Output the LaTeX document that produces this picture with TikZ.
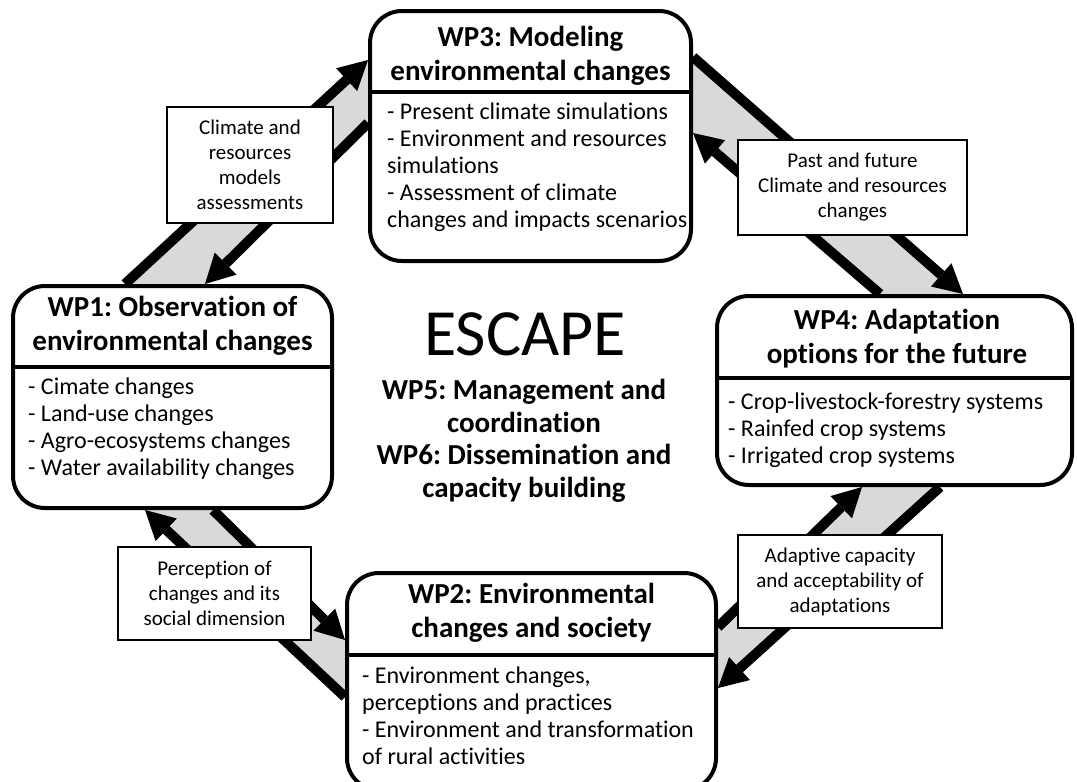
\documentclass[tikz,border=0pt]{standalone}
\usepackage{fontspec}
\setmainfont{Carlito}[Ligatures=NoCommon]
\frenchspacing
\usetikzlibrary{arrows.meta,backgrounds}
\begin{document}
\begin{tikzpicture}[x=1pt,y=-1pt,
  wpbox/.style={draw,line width=4pt,fill=white,rounded corners=32pt,inner sep=0pt},
  divider/.style={line width=3.5pt},
  wptitle/.style={font=\fontsize{29}{34}\selectfont\bfseries,align=center,inner sep=0pt,
    anchor=north,execute at begin node={\rule{0pt}{24pt}}},
  wpitems/.style={font=\fontsize{24}{27}\selectfont,align=left,inner sep=0pt,
    anchor=north west,execute at begin node={\rule{0pt}{20pt}}},
  flowlabel/.style={draw,line width=2pt,fill=white,font=\fontsize{21}{25}\selectfont,
    align=center,inner sep=0pt},
  band/.style={fill=black!15},
  flow/.style={line width=10pt,-{Triangle[length=29pt,width=31pt,line width=0pt]}},
]
\useasboundingbox (0,0) rectangle (1077,782);

% work package boxes
\node[wpbox,minimum width=321pt,minimum height=250pt] (wp3) at (530.5,136) {};
\node[wpbox,minimum width=319pt,minimum height=222pt] (wp1) at (172.5,397) {};
\node[wpbox,minimum width=355pt,minimum height=189pt] (wp4) at (894.5,390.5) {};
\node[wpbox,minimum width=369pt,minimum height=217pt] (wp2) at (531.5,681.5) {};

% title / content separators
\draw[divider] (wp3.west |- 0,92) -- (wp3.east |- 0,92);
\draw[divider] (wp1.west |- 0,367) -- (wp1.east |- 0,367);
\draw[divider] (wp4.west |- 0,378) -- (wp4.east |- 0,378);
\draw[divider] (wp2.west |- 0,655) -- (wp2.east |- 0,655);

% titles
\node[wptitle] (wp3t) at (530.5,26) {WP3: Modeling\\environmental changes};
\node[wptitle] (wp1t) at (172.5,296) {WP1: Observation of\\environmental changes};
\node[wptitle] (wp4t) at (897,309) {WP4: Adaptation\\options for the future};
\node[wptitle] (wp2t) at (531.5,583) {WP2: Environmental\\changes and society};

% contents
\node[wpitems] (wp3b) at (387,103) {- Present climate simulations\\- Environment and resources\\simulations\\- Assessment of climate\\changes and impacts scenarios};
\node[wpitems] (wp1b) at (28,378) {- Cimate changes\\- Land-use changes\\- Agro-ecosystems changes\\- Water availability changes};
\node[wpitems] (wp4b) at (728,393) {- Crop-livestock-forestry systems\\- Rainfed crop systems\\- Irrigated crop systems};
\node[wpitems] (wp2b) at (362,667) {- Environment changes,\\perceptions and practices\\- Environment and transformation\\of rural activities};

% project name and transversal work packages
\node[font=\fontsize{66}{70}\selectfont,anchor=base,inner sep=0pt] (escape) at (525,355) {ESCAPE};
\node[wptitle,font=\fontsize{29}{32.5}\selectfont\bfseries] (wp56) at (524,379)
  {WP5: Management and\\coordination\\WP6: Dissemination and\\capacity building};

% end points of the exchanges between work packages
\coordinate (a1) at (wp1.north -| 125,0);
\coordinate (a2) at (wp3.west |- 0,60);
\coordinate (a3) at (wp3.west |- 0,123);
\coordinate (a4) at (wp1.north -| 205,0);

\coordinate (b1) at (wp3.east |- 0,57);
\coordinate (b2) at (wp4.north -| 963,0);
\coordinate (b3) at (wp4.north -| 880,0);
\coordinate (b4) at (wp3.east |- 0,133);

\coordinate (c1) at (wp1.south -| 213,0);
\coordinate (c2) at (wp2.west |- 0,640);
\coordinate (c3) at (wp2.west |- 0,697);
\coordinate (c4) at (wp1.south -| 145,0);

\coordinate (d1) at (wp2.east |- 0,627);
\coordinate (d2) at (wp4.south -| 862,0);
\coordinate (d3) at (wp4.south -| 940,0);
\coordinate (d4) at (wp2.east |- 0,688);

\begin{pgfonlayer}{background}
  \fill[band] (a1) -- (a2) -- (a3) -- (a4) -- cycle;
  \fill[band] (b1) -- (b2) -- (b3) -- (b4) -- cycle;
  \fill[band] (c4) -- (c1) -- (c2) -- (c3) -- cycle;
  \fill[band] (d1) -- (d2) -- (d3) -- (d4) -- cycle;
  \draw[flow] (a1) -- (a2);
  \draw[flow] (a3) -- (a4);
  \draw[flow] (b1) -- (b2);
  \draw[flow] (b3) -- (b4);
  \draw[flow] (c1) -- (c2);
  \draw[flow] (c3) -- (c4);
  \draw[flow] (d1) -- (d2);
  \draw[flow] (d3) -- (d4);
\end{pgfonlayer}

% exchange labels
\node[flowlabel,minimum width=166pt,minimum height=116pt] (lab13) at (250,165)
  {Climate and\\resources\\models\\assessments};
\node[flowlabel,minimum width=229pt,minimum height=95pt] (lab34) at (852.5,187.5)
  {Past and future\\Climate and resources\\changes};
\node[flowlabel,minimum width=193pt,minimum height=93pt] (lab12) at (214.5,593.5)
  {Perception of\\changes and its\\social dimension};
\node[flowlabel,minimum width=204pt,minimum height=93pt] (lab24) at (840,581.5)
  {Adaptive capacity\\and acceptability of\\adaptations};
\end{tikzpicture}
\end{document}
